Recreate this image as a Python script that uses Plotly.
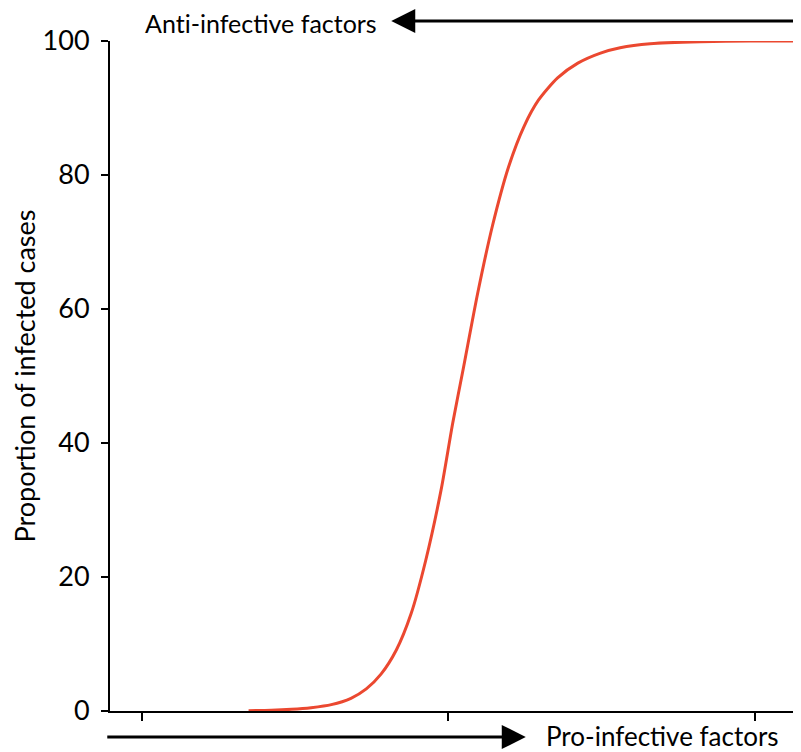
import plotly.graph_objects as go

# Pro-infective factor level (arbitrary units, ticks at 0/50/100) vs. % infected
factor_level = [17.4, 21.1, 24.4, 27.6, 30.9, 34.1, 36.6, 39.0, 41.5, 43.9, 46.3,
                48.8, 50.7, 52.4, 54.8, 57.2, 59.8, 62.3, 64.7, 67.8, 71.1, 74.8,
                78.0, 82.9, 91.1, 99.2, 107.5]
infected_pct = [0.05, 0.1, 0.25, 0.5, 0.95, 1.9, 3.3, 5.5, 9.1, 14.5, 22.5,
                33.0, 43.0, 51.0, 62.5, 72.5, 81.2, 87.2, 91.2, 94.5, 96.7, 98.2,
                99.0, 99.6, 99.9, 100.0, 100.0]

y_ticks = [0, 20, 40, 60, 80, 100]
x_ticks = [0, 50, 100]

# \u200c keeps Lato from joining "ti" into a ligature
top_label = 'Ant\u200ci-infective factors'
bottom_label = 'Pro-infective factors'
y_title = 'Propor\u200ction of infected cases'

font_family = 'Lato'
curve_color = '#EB4830'

fig = go.Figure()
fig.add_trace(go.Scatter(
    x=factor_level,
    y=infected_pct,
    mode='lines',
    line=dict(color=curve_color, width=3, shape='spline', smoothing=0.7),
    cliponaxis=False,
    hoverinfo='skip',
))

# axis-direction arrows and labels
fig.add_annotation(x=0.407, y=1.0299, xref='paper', yref='paper', text='',
                   showarrow=True, ax=407, ay=0, arrowhead=2, arrowsize=1.6,
                   arrowwidth=3, arrowcolor='black')
fig.add_annotation(x=0.3896, y=1.027, xref='paper', yref='paper',
                   text=top_label, showarrow=False,
                   xanchor='right', yanchor='middle',
                   font=dict(family=font_family, size=25, color='black'))
fig.add_annotation(x=0.6017, y=-0.0388, xref='paper', yref='paper', text='',
                   showarrow=True, ax=-420, ay=0, arrowhead=2, arrowsize=1.6,
                   arrowwidth=3, arrowcolor='black')
fig.add_annotation(x=0.628, y=-0.0375, xref='paper', yref='paper',
                   text=bottom_label, showarrow=False,
                   xanchor='left', yanchor='middle',
                   font=dict(family=font_family, size=26, color='black'))

# page body adds an 8px margin, so the figure is 8px smaller on each side
fig.update_layout(
    width=793,
    height=744,
    margin=dict(l=100, r=0, t=33, b=41),
    plot_bgcolor='white',
    paper_bgcolor='white',
    showlegend=False,
    font=dict(family=font_family, color='black', size=27),
    xaxis=dict(
        range=[-5.2, 107.5],
        tickvals=x_ticks,
        showticklabels=False,
        ticks='outside', ticklen=8, tickwidth=2, tickcolor='black',
        showline=True, linecolor='black', linewidth=2,
        showgrid=False, zeroline=False,
    ),
    yaxis=dict(
        range=[0, 100],
        tickvals=y_ticks,
        ticks='outside', ticklen=7, tickwidth=2, tickcolor='black',
        ticklabelstandoff=6,
        showline=True, linecolor='black', linewidth=2,
        showgrid=False, zeroline=False,
        title=dict(text=y_title, standoff=16,
                   font=dict(family=font_family, size=27)),
    ),
)

fig.write_html('out.html')
